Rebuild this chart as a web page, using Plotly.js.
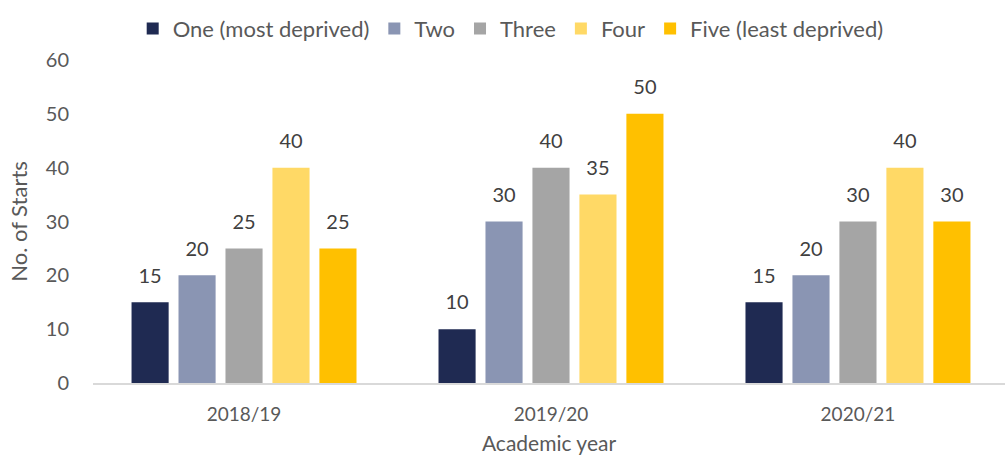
<!DOCTYPE html>
<html>
<head>
<meta charset="utf-8">
<script src="https://cdn.plot.ly/plotly-3.0.1.min.js"></script>
<style>html,body{margin:0;padding:0;background:#fff;}#chart{width:1005px;height:455px;}</style>
</head>
<body>
<div id="chart"></div>
<script>
const years = ["2018/19", "2019/20", "2020/21"];
const seriesNames = ["One (most deprived)", "Two", "Three", "Four", "Five (least deprived)"];
const one = [15, 10, 15];
const two = [20, 30, 20];
const three = [25, 40, 30];
const four = [40, 35, 40];
const five = [25, 50, 30];
const colors = ["#1F2A52", "#8A95B3", "#A5A5A5", "#FFD966", "#FFC000"];
const allSeries = [one, two, three, four, five];

const FONT = "Lato, 'Open Sans', sans-serif";
const bars = allSeries.map((vals, i) => ({
  type: "bar",
  name: seriesNames[i],
  x: years,
  y: vals,
  offsetgroup: "g" + i,
  marker: {color: colors[i]},
  hoverinfo: "none"
}));
const labels = allSeries.map((vals, i) => ({
  type: "scatter",
  mode: "markers+text",
  x: years,
  y: vals,
  offsetgroup: "g" + i,
  showlegend: false,
  marker: {size: 22, opacity: 0},
  text: vals.map(String),
  textposition: "top center",
  textfont: {family: FONT, size: 20, color: "#404040"},
  cliponaxis: false,
  hoverinfo: "none"
}));

const layout = {
  width: 1005,
  height: 455,
  margin: {l: 93, r: 0, t: 60, b: 72},
  paper_bgcolor: "#fff",
  plot_bgcolor: "#fff",
  font: {family: FONT, color: "#595959"},
  barmode: "group",
  scattermode: "group",
  bargap: 0.235,
  bargroupgap: 0.21,
  scattergap: 0.235,
  showlegend: true,
  legend: {
    orientation: "h",
    x: 0.458, xanchor: "center",
    xref: "paper",
    y: 1.097, yanchor: "middle",
    font: {family: FONT, size: 22, color: "#595959"},
    itemwidth: 30,
    traceorder: "normal"
  },
  xaxis: {
    type: "category",
    range: [-0.492, 2.479],
    showgrid: false,
    showline: true,
    linecolor: "#D9D9D9",
    linewidth: 2,
    ticks: "",
    tickfont: {family: FONT, size: 19, color: "#595959"},
    ticklabelstandoff: 13,
    title: {text: "Academic year", font: {family: FONT, size: 21, color: "#595959"}, standoff: 20},
    fixedrange: true
  },
  yaxis: {
    range: [0, 60],
    dtick: 10,
    showgrid: false,
    zeroline: false,
    showline: false,
    ticks: "",
    tickfont: {family: FONT, size: 20, color: "#595959"},
    ticklabelstandoff: 23,
    title: {text: "No. of Starts", font: {family: FONT, size: 22, color: "#595959"}, standoff: 12},
    fixedrange: true
  }
};

Plotly.newPlot("chart", bars.concat(labels), layout, {displayModeBar: false, staticPlot: true});
</script>
</body>
</html>
